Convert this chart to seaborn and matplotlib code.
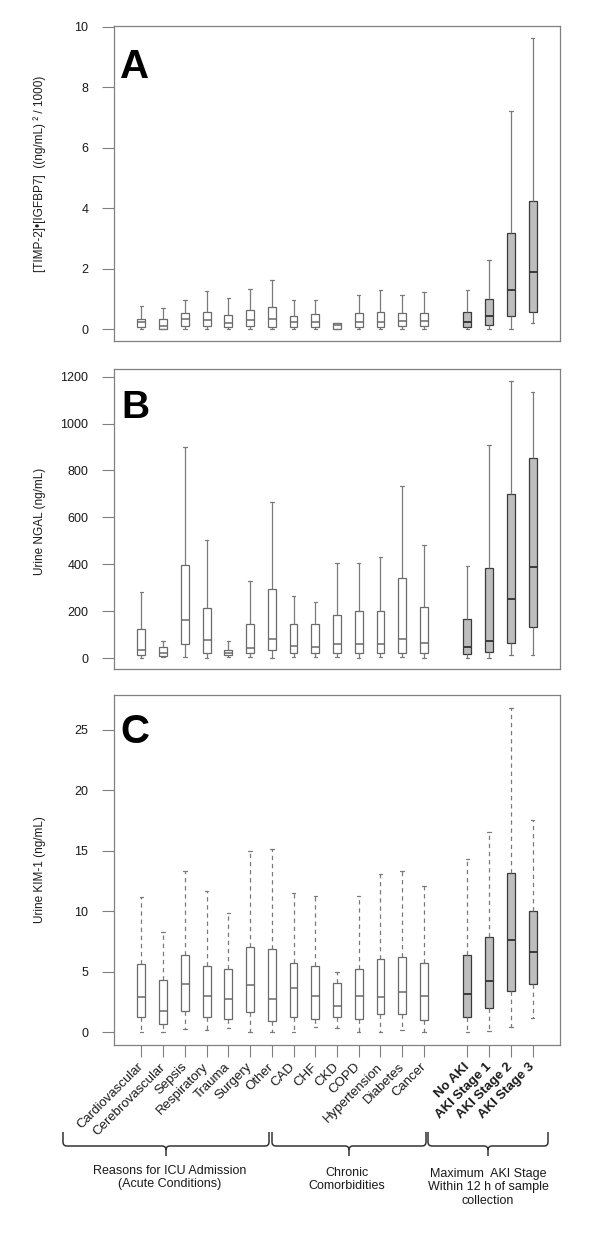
import numpy as np
import pandas as pd
import matplotlib
matplotlib.use("Agg")
import matplotlib.pyplot as plt
import seaborn as sns
from matplotlib.path import Path
from matplotlib.patches import PathPatch

sns.set_style("white")
plt.rcParams['font.family'] = ['Liberation Sans', 'DejaVu Sans']

# ---------------- data ----------------
acute = ["Cardiovascular", "Cerebrovascular", "Sepsis", "Respiratory",
         "Trauma", "Surgery", "Other"]
chronic = ["CAD", "CHF", "CKD", "COPD", "Hypertension", "Diabetes", "Cancer"]
aki = ["No AKI", "AKI Stage 1", "AKI Stage 2", "AKI Stage 3"]
categories = acute + chronic + aki

# Panel A: [TIMP-2]*[IGFBP7]
a_low  = [0, 0, 0, 0, 0, 0, 0,   0, 0, 0, 0, 0, 0, 0,   0, 0, 0, 0.22]
a_q1   = [0.09, 0.03, 0.11, 0.11, 0.09, 0.11, 0.08,
          0.08, 0.09, 0.03, 0.08, 0.09, 0.11, 0.11,   0.09, 0.16, 0.44, 0.58]
a_med  = [0.24, 0.11, 0.33, 0.30, 0.22, 0.30, 0.36,
          0.25, 0.24, 0.14, 0.24, 0.26, 0.27, 0.27,   0.24, 0.44, 1.30, 1.89]
a_q3   = [0.35, 0.33, 0.53, 0.58, 0.48, 0.63, 0.73,
          0.46, 0.52, 0.21, 0.55, 0.58, 0.55, 0.55,   0.58, 1.02, 3.19, 4.24]
a_high = [0.77, 0.71, 0.99, 1.26, 1.03, 1.34, 1.62,
          0.96, 0.96, 0.22, 1.14, 1.30, 1.14, 1.23,   1.30, 2.31, 7.20, 9.62]

# Panel B: Urine NGAL
b_low  = [0, 5, 6, 0, 6, 6, 0,   6, 6, 6, 0, 6, 6, 0,   0, 0, 13, 13]
b_q1   = [14, 10, 60, 24, 16, 24, 37,   24, 24, 24, 24, 24, 24, 24,   20, 28, 67, 133]
b_med  = [35, 24, 163, 77, 24, 45, 82,   55, 50, 60, 60, 60, 82, 67,   50, 74, 252, 388]
b_q3   = [126, 48, 397, 215, 35, 147, 295,   147, 147, 186, 201, 201, 341, 221,
          169, 383, 700, 853]
b_high = [283, 75, 900, 503, 74, 331, 667,   264, 241, 408, 408, 431, 733, 482,
          392, 910, 1183, 1136]

# Panel C: Urine KIM-1
c_low  = [0, 0, 0.25, 0.2, 0.35, 0, 0,   0, 0.4, 0.3, 0, 0, 0.2, 0,   0, 0.1, 0.4, 1.16]
c_q1   = [1.21, 0.69, 1.76, 1.21, 1.10, 1.65, 0.91,
          1.21, 1.10, 1.21, 1.10, 1.49, 1.49, 1.02,   1.24, 2.01, 3.36, 3.94]
c_med  = [2.89, 1.76, 3.94, 2.98, 2.76, 3.86, 2.76,
          3.64, 2.98, 2.12, 2.98, 2.89, 3.34, 2.98,   3.17, 4.22, 7.64, 6.59]
c_q3   = [5.62, 4.30, 6.39, 5.46, 5.18, 7.08, 6.89,
          5.68, 5.46, 4.08, 5.18, 6.06, 6.23, 5.68,   6.39, 7.88, 13.15, 10.03]
c_high = [11.16, 8.27, 13.31, 11.71, 9.84, 14.97, 15.16,
          11.49, 11.27, 4.96, 11.27, 13.04, 13.31, 12.10,   14.33, 16.59, 26.82, 17.56]

a_yticks = [0, 2, 4, 6, 8, 10]
b_yticks = [0, 200, 400, 600, 800, 1000, 1200]
c_yticks = [0, 5, 10, 15, 20, 25]

# ---------------- style ----------------
FRAME = "#808080"
EDGE_W = "#6a6a6a"
EDGE_G = "#3a3a3a"
FILL_G = "#bebebe"
WHISK = "#7a7a7a"
TXT = "#1a1a1a"
BOXW = 0.36

n_cond = len(acute) + len(chronic)
positions = [i + 1 for i in range(n_cond)] + [n_cond + 2 + i for i in range(len(aki))]
groups = ["cond"] * n_cond + ["aki"] * len(aki)

W, H = 600, 1241
fig = plt.figure(figsize=(W / 100, H / 100), dpi=100)


def px_axes(left, top, right, bottom):
    return fig.add_axes([left / W, 1 - bottom / H, (right - left) / W, (bottom - top) / H])


def draw_panel(ax, low, q1, med, q3, high, dashed):
    vals = np.column_stack([low, q1, med, q3, high])
    df = pd.DataFrame({"pos": np.repeat(positions, 5).astype(float),
                       "val": vals.ravel(),
                       "grp": np.repeat(groups, 5)})
    ls = (0, (3.5, 3)) if dashed else "-"
    for grp, fill, edge, mlw in [("cond", "white", EDGE_W, 1.1),
                                 ("aki", FILL_G, EDGE_G, 1.4)]:
        sub = df[df.grp == grp]
        sns.boxplot(data=sub, x="pos", y="val", native_scale=True, orient="x",
                    color=fill, saturation=1, linecolor=edge, linewidth=0.9,
                    width=BOXW, whis=(0, 100), fliersize=0,
                    whiskerprops=dict(color=WHISK, linewidth=0.9, linestyle=ls),
                    capprops=dict(color=WHISK, linewidth=0.9),
                    medianprops=dict(color=edge, linewidth=mlw),
                    ax=ax)
    # make caps short dashes like the original
    for ln in ax.lines:
        xd = np.asarray(ln.get_xdata(), dtype=float)
        yd = np.asarray(ln.get_ydata(), dtype=float)
        if len(xd) == 2 and yd[0] == yd[1]:
            span = abs(xd[1] - xd[0])
            if 0 < span < 0.9 * BOXW:
                c = xd.mean()
                ln.set_xdata([c - 0.08, c + 0.08])
    ax.set_xlim(-0.26, 20.26)
    ax.set_xlabel("")
    for s in ax.spines.values():
        s.set_visible(True)
        s.set_color(FRAME)
        s.set_linewidth(0.9)
    ax.tick_params(axis="y", direction="out", length=8.5, width=0.8,
                   color=FRAME, pad=10, labelsize=9, labelcolor=TXT, left=True)
    ax.grid(False)


# Panel A
axA = px_axes(114, 26, 560, 341)
draw_panel(axA, a_low, a_q1, a_med, a_q3, a_high, dashed=False)
axA.set_ylim(-0.38, 10.02)
axA.set_yticks(a_yticks)
axA.set_xticks([])
axA.set_ylabel("[TIMP-2]\u2022[IGFBP7]  ((ng/mL) \u00b2 / 1000)", fontsize=8.5, color=TXT)
axA.yaxis.set_label_coords(-0.152, 0.53)
axA.text(0.014, 0.835, "A", transform=axA.transAxes, fontsize=29,
         fontweight="bold", ha="left", va="baseline", color="black")

# Panel B
axB = px_axes(114, 369, 560, 669)
draw_panel(axB, b_low, b_q1, b_med, b_q3, b_high, dashed=False)
axB.set_ylim(-45, 1232)
axB.set_yticks(b_yticks)
axB.set_xticks([])
axB.set_ylabel("Urine NGAL (ng/mL)", fontsize=8.5, color=TXT)
axB.yaxis.set_label_coords(-0.152, 0.493)
axB.text(0.016, 0.837, "B", transform=axB.transAxes, fontsize=28,
         fontweight="bold", ha="left", va="baseline", color="black")

# Panel C
axC = px_axes(114, 695, 560, 1045)
draw_panel(axC, c_low, c_q1, c_med, c_q3, c_high, dashed=True)
axC.set_ylim(-1.07, 27.89)
axC.set_yticks(c_yticks)
axC.set_ylabel("Urine KIM-1 (ng/mL)", fontsize=8.5, color=TXT)
axC.yaxis.set_label_coords(-0.152, 0.5)
axC.text(0.014, 0.862, "C", transform=axC.transAxes, fontsize=29,
         fontweight="bold", ha="left", va="baseline", color="black")
axC.set_xticks(positions)
axC.set_xticklabels(categories, rotation=45, ha="right", va="center",
                    rotation_mode="anchor", fontsize=9.5, color=TXT)
axC.tick_params(axis="x", direction="out", length=8.5, width=0.8,
                color=FRAME, pad=6, bottom=True)
for lbl in axC.get_xticklabels()[n_cond:]:
    lbl.set_fontweight("bold")


# ---------------- braces and group labels ----------------
def brace(x0, x1, xc, ytop=1132, ymid=1146, ybot=1156, r=4):
    P = lambda x, y: (x / W, 1 - y / H)
    verts = [P(x0, ytop), P(x0, ymid - r), P(x0, ymid), P(x0 + r, ymid),
             P(xc - r, ymid), P(xc, ymid), P(xc, ymid + r), P(xc, ybot),
             P(xc, ymid + r), P(xc, ymid), P(xc + r, ymid),
             P(x1 - r, ymid), P(x1, ymid), P(x1, ymid - r), P(x1, ytop)]
    codes = [Path.MOVETO, Path.LINETO, Path.CURVE3, Path.CURVE3,
             Path.LINETO, Path.CURVE3, Path.CURVE3, Path.LINETO,
             Path.MOVETO, Path.CURVE3, Path.CURVE3,
             Path.LINETO, Path.CURVE3, Path.CURVE3, Path.LINETO]
    fig.add_artist(PathPatch(Path(verts, codes), transform=fig.transFigure,
                             fill=False, edgecolor="#333333", linewidth=1.1))


brace(63, 269, 166)
brace(272, 426, 349)
brace(428, 548, 488)

group_labels = ["Reasons for ICU Admission\n(Acute Conditions)",
                "Chronic\nComorbidities",
                "Maximum  AKI Stage\nWithin 12 h of sample\ncollection"]
for txt, xc, yt in zip(group_labels, [170, 347, 488], [1165, 1167, 1168]):
    fig.text(xc / W, 1 - yt / H, txt, ha="center", va="top", fontsize=9,
             color=TXT, linespacing=1.15, multialignment="center")

fig.savefig("out.png", dpi=100)
